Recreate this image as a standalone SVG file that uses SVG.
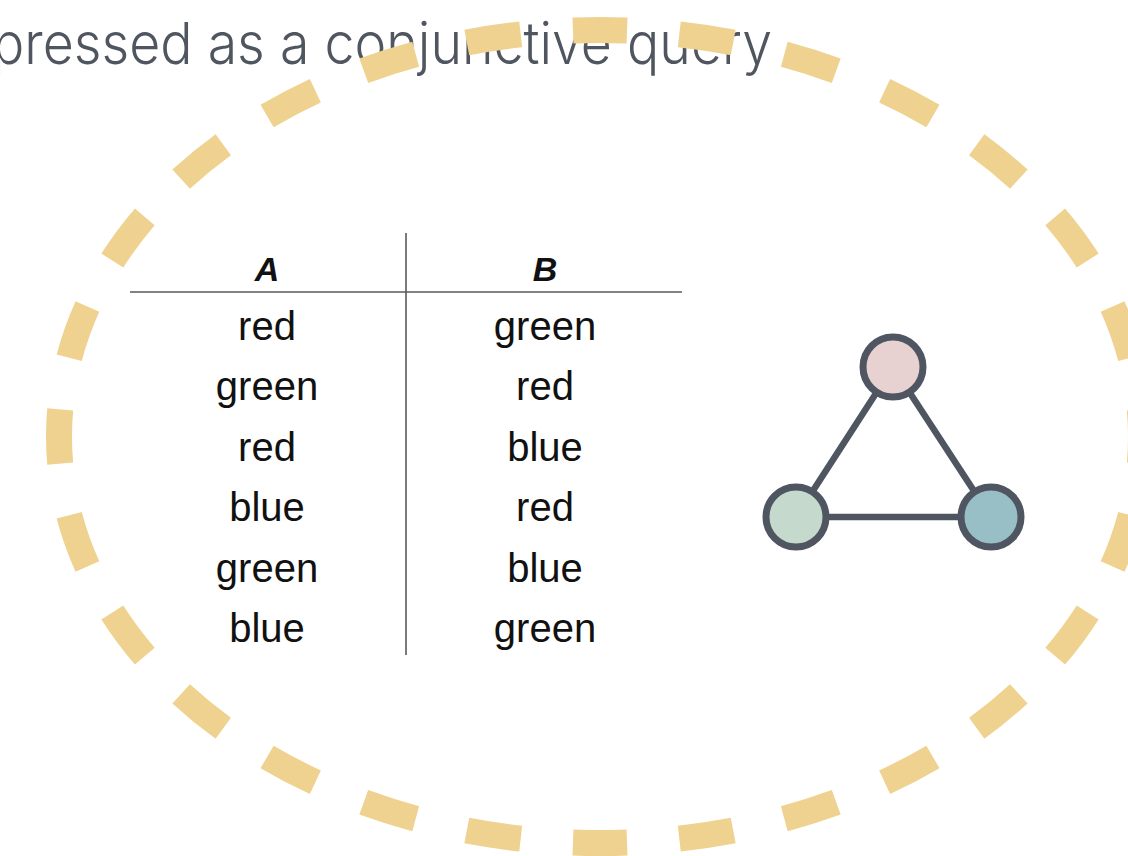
<svg xmlns="http://www.w3.org/2000/svg" width="1128" height="856" viewBox="0 0 1128 856">
<style>
.title{font-family:Inter,"Liberation Sans",sans-serif;font-weight:300;font-size:58px;fill:#50565f}
.hdr{font-family:"Liberation Sans",Arial,sans-serif;font-weight:bold;font-style:italic;font-size:34px;fill:#111;text-anchor:middle}
.cell{font-family:"Liberation Sans",Arial,sans-serif;font-size:40px;fill:#111;text-anchor:middle}
.rule{stroke:#5a5a5a;stroke-width:1.6;fill:none}
.edge{stroke:#4f5661;stroke-width:6.5;stroke-linecap:round}
.node{stroke:#4f5661;stroke-width:7}
</style>
<rect width="1128" height="856" fill="#ffffff"/>
<g id="title">
<text class="title" x="-8" y="64" textLength="780" lengthAdjust="spacingAndGlyphs">pressed as a conjunctive query</text>
</g>
<g id="table">
<line class="rule" x1="406" y1="233" x2="406" y2="655"/>
<line class="rule" x1="130" y1="292" x2="682" y2="292"/>
<text class="hdr" x="267" y="281">A</text>
<text class="hdr" x="545" y="281">B</text>
<text class="cell" x="267" y="340">red</text><text class="cell" x="545" y="340">green</text>
<text class="cell" x="267" y="400.4">green</text><text class="cell" x="545" y="400.4">red</text>
<text class="cell" x="267" y="460.8">red</text><text class="cell" x="545" y="460.8">blue</text>
<text class="cell" x="267" y="521.2">blue</text><text class="cell" x="545" y="521.2">red</text>
<text class="cell" x="267" y="581.6">green</text><text class="cell" x="545" y="581.6">blue</text>
<text class="cell" x="267" y="642">blue</text><text class="cell" x="545" y="642">green</text>
</g>
<g id="connectors">
<line class="edge" x1="893" y1="367" x2="796" y2="517"/>
<line class="edge" x1="893" y1="367" x2="991" y2="517"/>
<line class="edge" x1="796" y1="517" x2="991" y2="517"/>
</g>
<g id="node-top"><circle class="node" cx="893" cy="367" r="30" fill="#e8d1d1"/></g>
<g id="node-left"><circle class="node" cx="796" cy="517" r="30" fill="#c5d9cd"/></g>
<g id="node-right"><circle class="node" cx="991" cy="517" r="30" fill="#98bfc5"/></g>
<g id="ring">
<ellipse cx="600" cy="436.5" rx="541" ry="406.5" fill="none" stroke="#efd28f" stroke-width="26" pathLength="28" stroke-dasharray="0.51 0.49" stroke-dashoffset="0.255"/>
</g>
</svg>
